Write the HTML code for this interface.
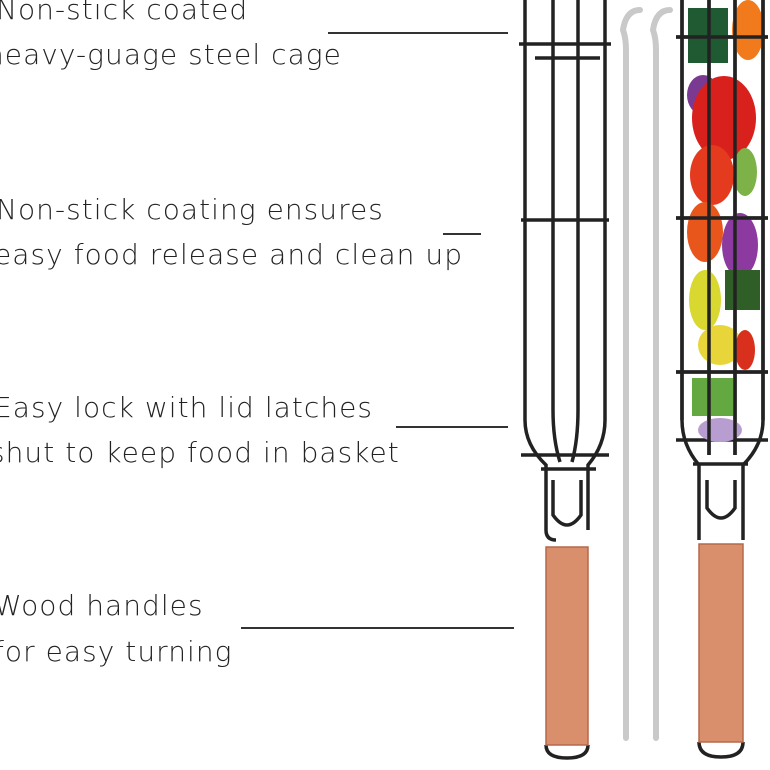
<!DOCTYPE html>
<html><head><meta charset="utf-8"><style>
html,body{margin:0;padding:0;background:#fff;width:770px;height:770px;overflow:hidden}
.t{position:absolute;font-family:"DejaVu Sans","Liberation Sans",sans-serif;font-size:28px;color:#222;white-space:nowrap;font-weight:300;letter-spacing:1.05px}
.l{position:absolute;height:1.5px;background:#333}
</style></head><body>
<div class="t" style="left:-4px;top:-7px">Non-stick coated</div>
<div class="t" style="left:-14px;top:38px">heavy-guage steel cage</div>
<div class="l" style="left:328px;top:32px;width:180px"></div>
<div class="t" style="left:-4px;top:193px">Non-stick coating ensures</div>
<div class="t" style="left:-6px;top:238px">easy food release and clean up</div>
<div class="l" style="left:443px;top:233px;width:38px"></div>
<div class="t" style="left:-6px;top:391px">Easy lock with lid latches</div>
<div class="t" style="left:-10px;top:436px">shut to keep food in basket</div>
<div class="l" style="left:396px;top:426px;width:112px"></div>
<div class="t" style="left:-6px;top:589px">Wood handles</div>
<div class="t" style="left:-6px;top:635px">for easy turning</div>
<div class="l" style="left:241px;top:627px;width:273px"></div>
<svg width="770" height="770" style="position:absolute;left:0;top:0">
<g fill="none" stroke="#222" stroke-width="3.5">
<path d="M525 0 V420 Q525 445 546 465 V530 Q546 540 556 540 M605 0 V420 Q605 445 588 465 V530"/>
<path d="M553 0 V410 Q553 440 560 462 M578 0 V410 Q578 440 572 462"/>
<path d="M519 44 H611 M535 58 H600 M521 220 H609 M521 455 H609"/>
<path d="M541 469 H596"/>
<path d="M553 480 V515 Q567 535 581 515 V480"/>
<path d="M546 745 Q546 758 567 758 Q588 758 588 745"/>
<path d="M682 0 V420 Q682 445 699 465 V540 M763 0 V420 Q763 445 743 465 V540"/>
<path d="M709 0 V455 M735 0 V455"/>
<path d="M676 37 H768 M676 218 H768 M676 372 H768 M676 440 H768"/>
<path d="M693 464 H748"/>
<path d="M707 480 V508 Q721 528 735 508 V480"/>
<path d="M699 742 Q699 757 721 757 Q743 757 743 742"/>
</g>
<rect x="546" y="547" width="42" height="198" fill="#d98e6c" stroke="#b5694a" stroke-width="1.5"/>
<rect x="699" y="544" width="44" height="198" fill="#d98e6c" stroke="#b5694a" stroke-width="1.5"/>
<g fill="none" stroke="#c9c9c9" stroke-width="6" stroke-linecap="round">
<path d="M626 738 V50 Q626 38 623 30 Q626 10 640 10"/>
<path d="M656 738 V50 Q656 38 653 30 Q656 10 670 10"/>
</g>
<g>
<rect x="688" y="8" width="40" height="55" fill="#1f5a32"/>
<ellipse cx="748" cy="30" rx="16" ry="30" fill="#f07a1c"/>
<ellipse cx="703" cy="95" rx="16" ry="20" fill="#7b3a92"/>
<ellipse cx="724" cy="118" rx="32" ry="42" fill="#d8201c"/>
<ellipse cx="712" cy="175" rx="22" ry="30" fill="#e43a1e"/>
<ellipse cx="745" cy="172" rx="12" ry="24" fill="#7db248"/>
<ellipse cx="705" cy="232" rx="18" ry="30" fill="#e9561c"/>
<ellipse cx="740" cy="245" rx="18" ry="32" fill="#8d3aa0"/>
<rect x="725" y="270" width="35" height="40" fill="#2f5f26"/>
<ellipse cx="705" cy="300" rx="16" ry="30" fill="#d8d830"/>
<ellipse cx="720" cy="345" rx="22" ry="20" fill="#e7d53a"/>
<ellipse cx="745" cy="350" rx="10" ry="20" fill="#d8301c"/>
<rect x="692" y="378" width="44" height="38" fill="#64a842"/>
<ellipse cx="720" cy="430" rx="22" ry="12" fill="#b89ed0"/>
</g>
<g fill="none" stroke="#222" stroke-width="3.5">
<path d="M682 0 V420 M763 0 V420 M709 0 V455 M735 0 V455 M676 37 H768 M676 218 H768 M676 372 H768"/>
</g>
</svg>
</body></html>
